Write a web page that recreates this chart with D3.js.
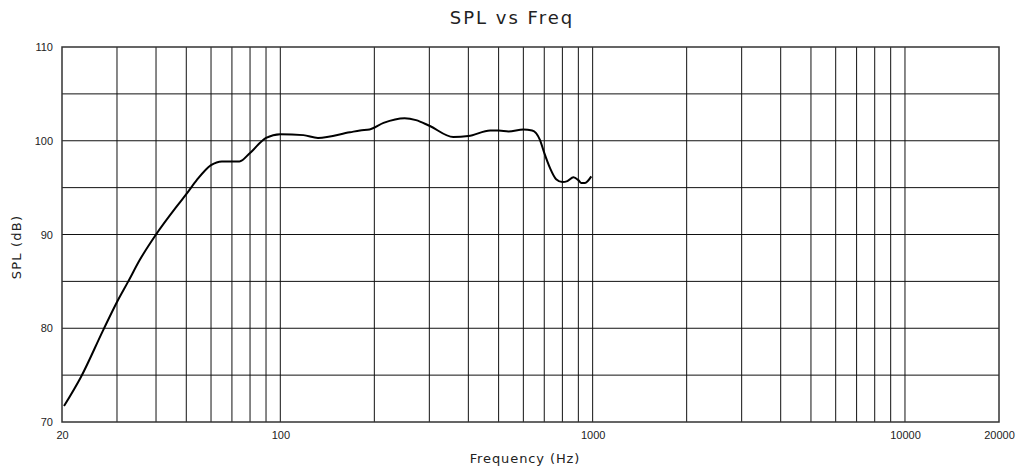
<!DOCTYPE html>
<html>
<head>
<meta charset="utf-8">
<script src="https://cdn.jsdelivr.net/npm/d3@7"></script>
<style>
  body { margin: 0; background: #fff; }
  text { font-family: "Liberation Sans", Arial, sans-serif; fill: #222; }
  .title { font-family: "DejaVu Sans", sans-serif; }
</style>
</head>
<body>
<script>
// Frequency response
var freqs = [20.3, 23, 27.1, 30, 32.6, 35.5, 40, 46.6, 50, 54, 60, 65, 74, 80, 90, 100,
  118.6, 132, 167, 180, 193, 214, 250, 272, 300, 358, 400, 470, 500, 538, 600, 640,
  678, 700, 730, 764, 800, 830, 868, 900, 920, 945, 990]
var spl = [71.7, 74.8, 79.8, 82.8, 85.0, 87.3, 90.0, 93.0, 94.3, 95.8, 97.4, 97.8, 97.8, 98.7, 100.3, 100.7,
  100.6, 100.3, 100.9, 101.1, 101.2, 101.9, 102.4, 102.2, 101.6, 100.4, 100.5, 101.1, 101.1, 101.0, 101.2, 101.1,
  100.1, 98.7, 97.1, 95.9, 95.6, 95.7, 96.1, 95.8, 95.5, 95.5, 96.2]

var xTickLabels = [20, 100, 1000, 10000, 20000]
var yTickLabels = [70, 80, 90, 100, 110]
var xGrid = [30, 40, 50, 60, 70, 80, 90, 100, 200, 300, 400, 500, 600, 700, 800, 900,
  1000, 2000, 3000, 4000, 5000, 6000, 7000, 8000, 9000, 10000]
var yGrid = [75, 80, 85, 90, 95, 100, 105]

var margin = { top: 47, right: 20, bottom: 47, left: 62 }
var width = 1019
var height = 469
var w = width - margin.left - margin.right
var h = height - margin.top - margin.bottom

var svg = d3.select('body').append('svg')
  .attr('width', width)
  .attr('height', height)

var g = svg.append('g')
  .attr('transform', 'translate(' + margin.left + ',' + margin.top + ')')

var x = d3.scaleLog().domain([20, 20000]).range([0, w])
var y = d3.scaleLinear().domain([70, 110]).range([h, 0])

// grid
g.selectAll('line.vgrid')
  .data(xGrid)
  .enter().append('line')
  .attr('class', 'vgrid')
  .attr('x1', function (d) { return x(d) })
  .attr('x2', function (d) { return x(d) })
  .attr('y1', 0)
  .attr('y2', h)
  .attr('stroke', '#111')
  .attr('stroke-width', 1)

g.selectAll('line.hgrid')
  .data(yGrid)
  .enter().append('line')
  .attr('class', 'hgrid')
  .attr('x1', 0)
  .attr('x2', w)
  .attr('y1', function (d) { return y(d) })
  .attr('y2', function (d) { return y(d) })
  .attr('stroke', '#111')
  .attr('stroke-width', 1)

// frame
g.append('rect')
  .attr('width', w)
  .attr('height', h)
  .attr('fill', 'none')
  .attr('stroke', '#333')
  .attr('stroke-width', 1.5)

// axes (labels only)
var xAxis = d3.axisBottom(x)
  .tickValues(xTickLabels)
  .tickFormat(d3.format('d'))
  .tickSize(0)
  .tickPadding(9)
g.append('g')
  .attr('transform', 'translate(0,' + h + ')')
  .call(xAxis)
  .call(function (s) { s.select('.domain').remove() })
  .selectAll('text')
  .style('font-size', '11px')
  .attr('fill', '#222')

var yAxis = d3.axisLeft(y)
  .tickValues(yTickLabels)
  .tickSize(0)
  .tickPadding(9)
g.append('g')
  .call(yAxis)
  .call(function (s) { s.select('.domain').remove() })
  .selectAll('text')
  .style('font-size', '11px')
  .attr('fill', '#222')

// curve
var pts = freqs.map(function (f, i) { return [f, spl[i]] })
var line = d3.line()
  .x(function (d) { return x(d[0]) })
  .y(function (d) { return y(d[1]) })
  .curve(d3.curveMonotoneX)

g.append('path')
  .datum(pts)
  .attr('d', line)
  .attr('fill', 'none')
  .attr('stroke', '#000')
  .attr('stroke-width', 2)

// titles
svg.append('text')
  .attr('class', 'title')
  .attr('x', 512)
  .attr('y', 24)
  .attr('text-anchor', 'middle')
  .style('font-size', '18px')
  .style('letter-spacing', '2px')
  .text('SPL vs Freq')

svg.append('text')
  .attr('class', 'title')
  .attr('x', 525)
  .attr('y', 463)
  .attr('text-anchor', 'middle')
  .style('font-size', '13px')
  .style('letter-spacing', '0.9px')
  .text('Frequency (Hz)')

svg.append('text')
  .attr('class', 'title')
  .attr('transform', 'translate(21,247) rotate(-90)')
  .attr('text-anchor', 'middle')
  .style('font-size', '13px')
  .style('letter-spacing', '1.2px')
  .text('SPL (dB)')
</script>
</body>
</html>
